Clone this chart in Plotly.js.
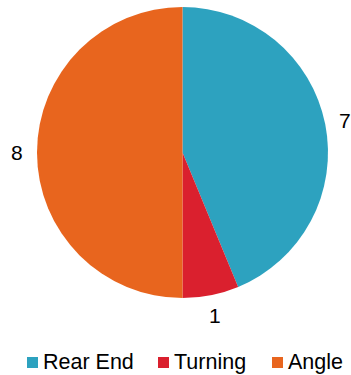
<!DOCTYPE html>
<html><head><meta charset="utf-8">
<script src="https://cdn.plot.ly/plotly-3.0.1.min.js"></script>
<style>html,body{margin:0;padding:0;background:#fff}#c{width:351px;height:375px}</style>
</head><body><div id="c"></div>
<script>
const categories = ["Rear End", "Turning", "Angle"];
const values = [7, 1, 8];
const colors = ["#2DA2BF", "#DA202E", "#E8651E"];

const W = 351, H = 375;
const cx = 182.5, cy = 152.5, R = 145.5, labelR = 166;
const FONT = 'Liberation Sans, Arial, sans-serif';
const total = values.reduce((a, b) => a + b, 0);
let cum = 0;
const annotations = values.map((v) => {
  const mid = (cum + v / 2) / total * 2 * Math.PI;
  cum += v;
  const px = cx + labelR * Math.sin(mid);
  const py = cy - labelR * Math.cos(mid);
  return {x: px / W, y: 1 - py / H, xref: 'paper', yref: 'paper', text: String(v), showarrow: false,
    xanchor: 'center', yanchor: 'middle', font: {family: FONT, size: 21, color: '#000'}};
});

// custom legend (square + label), left edges of squares in px
const legendX = [27, 158, 272];
const legendY = 362.5;
const shapes = [];
categories.forEach((c, i) => {
  shapes.push({type: 'rect', xref: 'paper', yref: 'paper',
    x0: legendX[i] / W, x1: (legendX[i] + 11) / W, y0: 1 - (legendY + 5.5) / H, y1: 1 - (legendY - 5.5) / H,
    fillcolor: colors[i], line: {width: 0}});
  annotations.push({x: (legendX[i] + 15) / W, y: 1 - (legendY - 0.5) / H, xref: 'paper', yref: 'paper', text: c,
    showarrow: false, xanchor: 'left', yanchor: 'middle', borderpad: 0,
    font: {family: FONT, size: 21.5, color: '#000'}});
});

Plotly.newPlot('c', [{
  type: 'pie', labels: categories, values: values, sort: false, direction: 'clockwise', rotation: 0,
  marker: {colors: colors, line: {width: 0}}, textinfo: 'none', hoverinfo: 'label+value',
  domain: {x: [(cx - R) / W, (cx + R) / W], y: [1 - (cy + R) / H, 1 - (cy - R) / H]}
}], {
  width: W, height: H, margin: {l: 0, r: 0, t: 0, b: 0}, paper_bgcolor: '#fff',
  showlegend: false,
  annotations: annotations, shapes: shapes
}, {displayModeBar: false, staticPlot: true});
</script></body></html>
